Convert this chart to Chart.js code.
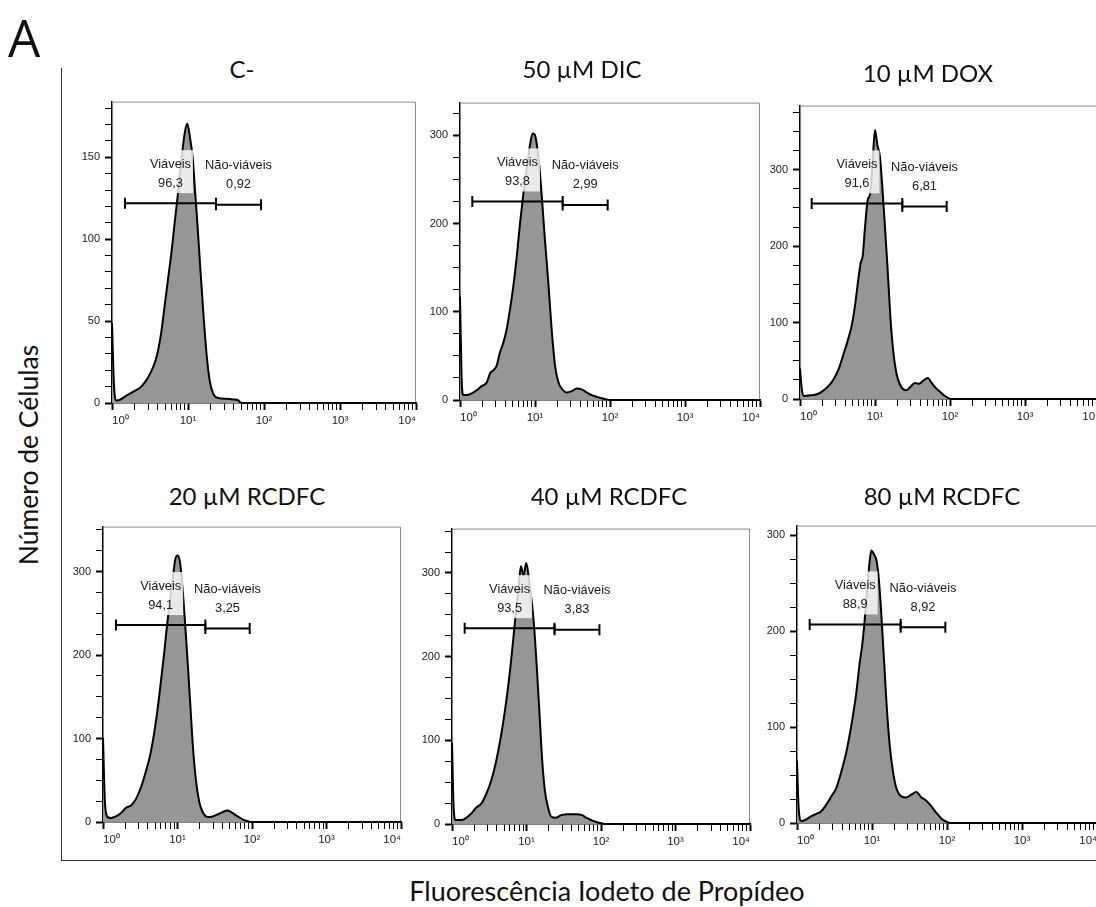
<!DOCTYPE html>
<html lang="pt">
<head>
<meta charset="utf-8">
<title>Citometria - Iodeto de Propídeo</title>
<script src="https://cdn.jsdelivr.net/npm/chart.js@4.4.1/dist/chart.umd.min.js"></script>
<style>
  html, body { margin: 0; padding: 0; background: #fff; overflow: hidden; }
  body { width: 1096px; height: 907px; position: relative; font-family: Lato, "Noto Sans", sans-serif; color: #111; }
  canvas { position: absolute; }
  .titulo { position: absolute; font-size: 24px; transform: translate(-50%, -50%); white-space: nowrap; }
  .moldura { position: absolute; left: 61px; top: 68px; width: 1040px; height: 792px;
             border-left: 1.5px solid #333; border-bottom: 1.5px solid #333; }
  #letra { position: absolute; left: 8px; top: 2px; font-size: 51px; font-family: "Open Sans", Lato, sans-serif; }
  #eixoY { position: absolute; left: 28px; top: 455px; font-size: 26.5px; transform: translate(-50%, -50%) rotate(-90deg); white-space: nowrap; }
  #eixoX { position: absolute; left: 607px; top: 890px; font-size: 27px; transform: translate(-50%, -50%); white-space: nowrap; }
</style>
</head>
<body>
<div class="moldura"></div>
<div id="letra">A</div>
<div id="eixoY">Número de Células</div>
<div id="eixoX">Fluorescência Iodeto de Propídeo</div>

<script>
// amostras (log10 da fluorescência) e contagem de eventos por amostra
var amostras = ['C-', '50 µM DIC', '10 µM DOX', '20 µM RCDFC', '40 µM RCDFC', '80 µM RCDFC'];

var logC = [0, 0.026, 0.061, 0.105, 0.193, 0.281, 0.368, 0.434, 0.5, 0.566, 0.61, 0.654, 0.697, 0.741, 0.785, 0.829, 0.873, 0.917, 0.961, 0.991, 1.026, 1.061, 1.092, 1.123, 1.158, 1.202, 1.246, 1.289, 1.333, 1.399, 1.509, 1.596, 1.662, 1.684, 1.75, 4];
var contC = [49, 11, 1.6, 2, 4.6, 7, 9.3, 12.7, 17.8, 25, 33, 45, 61, 77, 93, 112, 130, 150, 166, 170.5, 162, 150, 130, 110, 85, 55, 29, 12.7, 5.6, 3, 2.6, 2.2, 1.6, 0.6, 0, 0];

var logDIC = [0, 0.022, 0.044, 0.089, 0.156, 0.222, 0.289, 0.356, 0.4, 0.444, 0.489, 0.533, 0.578, 0.622, 0.667, 0.711, 0.756, 0.8, 0.844, 0.889, 0.933, 0.969, 1.0, 1.036, 1.067, 1.098, 1.133, 1.178, 1.222, 1.267, 1.311, 1.356, 1.422, 1.489, 1.556, 1.622, 1.689, 1.756, 1.822, 1.889, 1.956, 2.0, 4];
var contDIC = [117, 24, 5.6, 5.6, 7.5, 11, 15.7, 19.8, 30, 33.6, 39, 54, 65, 80, 103, 129, 162, 200, 233, 263, 289, 302, 300, 282, 256, 222, 181, 132.5, 80, 39, 20.5, 13, 8.6, 10, 13, 12, 8.6, 5.6, 3.7, 1.9, 0.7, 0, 0];

var logDOX = [0, 0.022, 0.053, 0.111, 0.178, 0.244, 0.311, 0.378, 0.444, 0.511, 0.578, 0.644, 0.689, 0.733, 0.778, 0.809, 0.836, 0.867, 0.902, 0.933, 0.964, 1.0, 1.031, 1.067, 1.098, 1.133, 1.169, 1.204, 1.244, 1.289, 1.333, 1.378, 1.422, 1.467, 1.533, 1.587, 1.644, 1.702, 1.756, 1.8, 1.867, 1.933, 1.987, 2.022, 4];
var contDOX = [40, 14.6, 3.9, 4.7, 5.2, 6.9, 11, 16.8, 25, 38, 58, 79, 96, 122, 157, 178, 187, 225, 260, 268, 303, 352, 333, 316, 277, 225, 169, 109, 62, 32, 19, 12.5, 11.6, 15.5, 21, 19.8, 24, 27.5, 21, 15.5, 9.5, 3.9, 0.9, 0, 0];

var logR20 = [0, 0.027, 0.063, 0.107, 0.174, 0.242, 0.309, 0.376, 0.443, 0.51, 0.577, 0.644, 0.711, 0.756, 0.787, 0.823, 0.855, 0.89, 0.935, 0.971, 1.002, 1.034, 1.069, 1.101, 1.136, 1.172, 1.208, 1.248, 1.293, 1.338, 1.405, 1.472, 1.539, 1.606, 1.673, 1.74, 1.808, 1.875, 1.942, 1.987, 4];
var contR20 = [101, 21.8, 6, 4.8, 6.7, 10.7, 17, 19.8, 27.7, 41.6, 61, 85, 121, 152, 176, 204, 232, 259, 291, 315, 319.5, 311, 279, 239.5, 192, 140.5, 89, 49.5, 23.8, 11.9, 5.9, 6.7, 9.1, 11.9, 13.9, 10.7, 6.7, 3.2, 0.8, 0, 0];

var logR40 = [0, 0.022, 0.049, 0.125, 0.192, 0.259, 0.326, 0.393, 0.46, 0.527, 0.594, 0.661, 0.728, 0.782, 0.827, 0.862, 0.898, 0.925, 0.961, 0.996, 1.023, 1.05, 1.077, 1.108, 1.139, 1.175, 1.211, 1.247, 1.287, 1.332, 1.39, 1.466, 1.555, 1.667, 1.747, 1.801, 1.868, 1.935, 2.002, 2.046, 4];
var contR40 = [97, 20, 4.7, 4.7, 7.5, 12.6, 19.7, 24.4, 36, 52, 75.6, 107, 146.5, 186, 225, 257, 288, 308, 297, 312, 300, 280, 260.6, 229, 186, 131, 75.6, 40, 20.5, 8.7, 7.5, 10.6, 11.8, 11.8, 10.6, 7.5, 4.7, 2.4, 0.8, 0, 0];

var logR80 = [0, 0.022, 0.058, 0.124, 0.191, 0.258, 0.324, 0.391, 0.458, 0.524, 0.591, 0.658, 0.724, 0.791, 0.836, 0.867, 0.902, 0.938, 0.969, 0.991, 1.027, 1.062, 1.089, 1.124, 1.16, 1.196, 1.236, 1.28, 1.324, 1.391, 1.458, 1.524, 1.591, 1.658, 1.724, 1.791, 1.858, 1.924, 1.991, 2.036, 4];
var contR80 = [65, 15.8, 2, 3.8, 7.2, 9.6, 12.3, 19.2, 27.8, 36.4, 53.5, 74, 101.5, 136, 167, 184, 211, 245.5, 273, 284, 280, 273, 256, 218, 170, 122, 81, 53.5, 36.4, 27.8, 26.7, 29.5, 32.2, 26.7, 23.3, 17.5, 10.6, 4.8, 1.4, 0, 0];

var eixosLog = [logC, logDIC, logDOX, logR20, logR40, logR80];
var contagens = [contC, contDIC, contDOX, contR20, contR40, contR80];

// gates: [inicio, fim, altura]
var gateViaveis = [[0.171, 1.368, 122], [0.164, 1.369, 225], [0.156, 1.364, 256], [0.174, 1.374, 236], [0.17, 1.376, 234], [0.169, 1.382, 207]];
var gateNaoViaveis = [[1.368, 1.961, 121], [1.369, 1.969, 221], [1.364, 1.956, 252], [1.374, 1.969, 232], [1.376, 1.979, 232], [1.382, 1.978, 204]];
var pctViaveis = ['96,3', '93,8', '91,6', '94,1', '93,5', '88,9'];
var pctNaoViaveis = ['0,92', '2,99', '6,81', '3,25', '3,83', '8,92'];

// escala do eixo y
var yMax = [184, 337, 384, 354, 353, 310];
var yPasso = [50, 100, 100, 100, 100, 100];
var yMenor = [10, 25, 25, 25, 25, 25];

var xDecadas = [0, 1, 2, 3, 4];

// area de plotagem de cada painel na pagina: [esq, topo, dir, base]
var areas = [[112, 98, 416, 403], [460, 99, 760, 400], [800, 102, 1100, 399],
             [103, 523, 401, 822], [452, 525, 750, 824], [797, 522, 1097, 823]];
var centrosTitulo = [[242, 68], [582, 68], [928, 72], [247, 495], [609, 495], [942, 495]];

var LARG_Y = 44, ALT_X = 28, PAD_TOPO = 8, PAD_DIR = 14;
var sobrescrito = ['\u2070', '\u00b9', '\u00b2', '\u00b3', '\u2074'];
var fonteX = { family: '"Liberation Sans", Arial, sans-serif', size: 11.5 };
var fonteY = { family: '"Liberation Sans", Arial, sans-serif', size: 11 };

function ehInteiro(v) { return Math.abs(v - Math.round(v)) < 1e-6; }

// moldura fina (topo e direita) da area de plotagem
var molduraPlugin = {
    id: 'molduraPainel',
    beforeDatasetsDraw: function (chart) {
        var a = chart.chartArea, ctx = chart.ctx;
        ctx.save();
        ctx.strokeStyle = '#8a8a8a';
        ctx.lineWidth = 1;
        ctx.beginPath();
        ctx.moveTo(a.left, a.top + 0.5);
        ctx.lineTo(a.right - 0.5, a.top + 0.5);
        ctx.lineTo(a.right - 0.5, a.bottom);
        ctx.stroke();
        ctx.restore();
    }
};

// rotulos dos gates (nome e percentual) acima de cada gate
var rotulosPlugin = {
    id: 'rotulosGate',
    afterDatasetsDraw: function (chart, args, opts) {
        var ctx = chart.ctx, sx = chart.scales.x, sy = chart.scales.y;
        ctx.save();
        ctx.font = '12.8px "Liberation Sans", Arial, sans-serif';
        ctx.textAlign = 'center';
        ctx.textBaseline = 'middle';
        opts.gates.forEach(function (g) {
            var cx = (sx.getPixelForValue(g.ini) + sx.getPixelForValue(g.fim)) / 2;
            var gy = sy.getPixelForValue(g.y);
            var w = Math.max(ctx.measureText(g.nome).width, ctx.measureText(g.pct).width) + 4;
            ctx.fillStyle = 'rgba(255,255,255,0.8)';
            ctx.fillRect(cx - w / 2, gy - 53, w, 43);
            ctx.fillStyle = '#1a1a1a';
            ctx.fillText(g.nome, cx, gy - 39);
            ctx.fillText(g.pct, cx, gy - 20);
        });
        ctx.restore();
    }
};

function criarPainel(i) {
    var area = areas[i];
    var larg = area[2] - area[0], alt = area[3] - area[1];
    var canvas = document.createElement('canvas');
    canvas.width = larg + LARG_Y + PAD_DIR;
    canvas.height = alt + PAD_TOPO + ALT_X;
    canvas.style.left = (area[0] - LARG_Y) + 'px';
    canvas.style.top = (area[1] - PAD_TOPO) + 'px';
    document.body.appendChild(canvas);

    var titulo = document.createElement('div');
    titulo.className = 'titulo';
    titulo.textContent = amostras[i];
    titulo.style.left = centrosTitulo[i][0] + 'px';
    titulo.style.top = centrosTitulo[i][1] + 'px';
    document.body.appendChild(titulo);

    var pontos = eixosLog[i].map(function (x, k) { return { x: x, y: contagens[i][k] }; });
    var gv = gateViaveis[i], gn = gateNaoViaveis[i];

    var estiloGate = {
        type: 'line',
        borderColor: '#000',
        borderWidth: 2,
        tension: 0,
        fill: false,
        pointStyle: 'line',
        pointRotation: 90,
        pointRadius: 5.5,
        pointBorderWidth: 2,
        pointBorderColor: '#000',
        order: 1
    };

    new Chart(canvas.getContext('2d'), {
        type: 'line',
        data: {
            datasets: [
                {
                    label: amostras[i],
                    data: pontos,
                    borderColor: '#000',
                    borderWidth: 2,
                    backgroundColor: '#969696',
                    fill: 'origin',
                    pointRadius: 0,
                    cubicInterpolationMode: 'monotone',
                    clip: 3,
                    order: 2
                },
                Object.assign({ label: 'Viáveis', data: [{ x: gv[0], y: gv[2] }, { x: gv[1], y: gv[2] }] }, estiloGate),
                Object.assign({ label: 'Não-viáveis', data: [{ x: gn[0], y: gn[2] }, { x: gn[1], y: gn[2] }] }, estiloGate)
            ]
        },
        options: {
            responsive: false,
            animation: false,
            devicePixelRatio: 1,
            layout: { padding: { top: PAD_TOPO, right: PAD_DIR, left: 0, bottom: 0 } },
            plugins: {
                legend: { display: false },
                tooltip: { enabled: false },
                rotulosGate: {
                    gates: [
                        { ini: gv[0], fim: gv[1], y: gv[2], nome: 'Viáveis', pct: pctViaveis[i] },
                        { ini: gn[0], fim: gn[1], y: gn[2], nome: 'Não-viáveis', pct: pctNaoViaveis[i] }
                    ]
                }
            },
            scales: {
                x: {
                    type: 'linear',
                    min: xDecadas[0],
                    max: xDecadas[xDecadas.length - 1],
                    afterBuildTicks: function (scale) {
                        var t = [];
                        for (var d = 0; d < xDecadas.length - 1; d++) {
                            for (var k = 1; k <= 9; k++) t.push({ value: xDecadas[d] + Math.log10(k) });
                        }
                        t.push({ value: xDecadas[xDecadas.length - 1] });
                        scale.ticks = t;
                    },
                    afterFit: function (scale) { scale.height = ALT_X; },
                    ticks: {
                        autoSkip: false,
                        maxRotation: 0,
                        align: 'inner',
                        padding: 4,
                        color: '#222',
                        font: fonteX,
                        callback: function (v) { return ehInteiro(v) ? '10' + sobrescrito[Math.round(v)] : ''; }
                    },
                    grid: {
                        drawOnChartArea: false,
                        tickLength: 7,
                        tickColor: '#000',
                        tickWidth: function (c) { return c.tick && ehInteiro(c.tick.value) ? 2 : 1; }
                    },
                    border: { color: '#000', width: 1.5 }
                },
                y: {
                    min: 0,
                    max: yMax[i],
                    afterBuildTicks: function (scale) {
                        var t = [];
                        for (var v = 0; v <= yMax[i]; v += yMenor[i]) t.push({ value: v });
                        scale.ticks = t;
                    },
                    afterFit: function (scale) { scale.width = LARG_Y; },
                    ticks: {
                        autoSkip: false,
                        padding: 5,
                        color: '#222',
                        font: fonteY,
                        callback: function (v) { return v % yPasso[i] === 0 ? String(v) : ''; }
                    },
                    grid: {
                        drawOnChartArea: false,
                        tickLength: 7,
                        tickColor: '#000',
                        tickWidth: function (c) { return c.tick && c.tick.value % yPasso[i] === 0 ? 2 : 1; }
                    },
                    border: { color: '#000', width: 1.5 }
                }
            }
        },
        plugins: [molduraPlugin, rotulosPlugin]
    });
}

for (var i = 0; i < amostras.length; i++) criarPainel(i);
</script>
</body>
</html>
